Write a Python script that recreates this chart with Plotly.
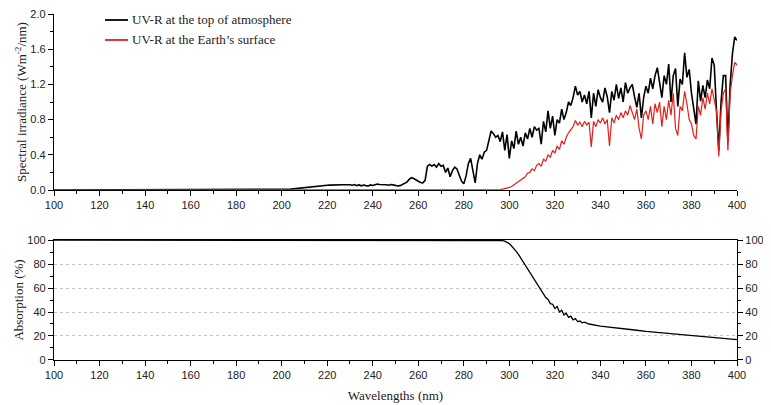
import plotly.graph_objects as go

# Irradiance spectrum (W m-2 nm-1)
wl_toa = [100] + list(range(200, 401))
irr_toa = [0.0,
    0.0, 0.003, 0.005, 0.008, 0.01, 0.013, 0.016, 0.02, 0.024, 0.028,
    0.032, 0.035, 0.038, 0.04, 0.042, 0.044, 0.046, 0.048, 0.05, 0.052,
    0.054, 0.055, 0.057, 0.058, 0.058, 0.059, 0.058, 0.06, 0.059, 0.061,
    0.06, 0.055, 0.062, 0.05, 0.058, 0.048, 0.056, 0.05, 0.047, 0.058,
    0.052, 0.06, 0.068, 0.062, 0.064, 0.058, 0.06, 0.055, 0.062, 0.058,
    0.05, 0.046, 0.05, 0.062, 0.075, 0.09, 0.12, 0.14, 0.13, 0.11,
    0.1, 0.085, 0.08, 0.11, 0.27, 0.29, 0.27, 0.29, 0.26, 0.3,
    0.27, 0.28, 0.2, 0.25, 0.15, 0.22, 0.26, 0.24, 0.16, 0.1,
    0.07, 0.16, 0.3, 0.36, 0.22, 0.08, 0.3, 0.4, 0.35, 0.43,
    0.45, 0.58, 0.67, 0.64, 0.6, 0.62, 0.55, 0.66, 0.45, 0.63,
    0.36, 0.56, 0.47, 0.67, 0.52, 0.6, 0.5, 0.65, 0.58, 0.7,
    0.6, 0.72, 0.68, 0.7, 0.52, 0.78, 0.66, 0.9, 0.7, 0.84,
    0.62, 0.8, 0.76, 0.92, 0.8, 0.88, 1.0, 0.96, 1.05, 1.18,
    1.08, 1.12, 1.0, 1.08, 0.98, 1.12, 0.82, 1.1, 0.95, 1.14,
    1.05, 1.0, 1.16, 1.06, 0.88, 1.12, 1.02, 1.2, 1.04, 1.16,
    1.0, 1.22, 1.1, 1.16, 1.2, 1.06, 0.94, 1.1, 0.82, 1.05,
    1.18, 1.1, 1.27, 1.15, 1.3, 1.39, 1.2, 1.05, 1.3, 1.2,
    1.43, 1.0, 1.3, 1.38, 0.95, 1.26, 1.2, 1.56, 1.28, 1.37,
    1.1, 0.95, 0.75, 1.24, 1.01, 1.19, 1.05, 1.25, 1.15, 1.5,
    1.42, 0.9, 0.45, 1.0, 1.3, 1.3, 0.55, 1.2, 1.55, 1.74,
    1.7]

wl_surf = [100] + list(range(295, 401))
irr_surf = [0.0,
    0.0, 0.005, 0.01, 0.015, 0.02, 0.03, 0.04, 0.06, 0.07, 0.1,
    0.11, 0.14, 0.15, 0.19, 0.2, 0.24, 0.22, 0.28, 0.3, 0.27,
    0.35, 0.33, 0.4, 0.37, 0.45, 0.42, 0.5, 0.46, 0.56, 0.52,
    0.6, 0.65, 0.68, 0.72, 0.79, 0.74, 0.77, 0.72, 0.78, 0.74,
    0.77, 0.49, 0.78, 0.72, 0.8, 0.76, 0.82, 0.75, 0.8, 0.5,
    0.82, 0.76, 0.85, 0.8, 0.88, 0.82, 0.9, 0.85, 0.96, 0.88,
    0.8, 0.92, 0.7, 0.58, 0.85, 0.9, 0.8, 0.95, 0.75, 0.98,
    0.88, 1.0, 0.72, 0.95, 0.8, 1.02, 0.85, 1.1, 0.7, 0.62,
    0.95, 0.9, 1.12, 0.98, 0.8, 0.75, 0.62, 0.58, 0.95, 0.85,
    1.05, 0.92, 1.1, 0.98, 1.15, 1.02, 0.9, 0.38, 0.9, 1.1,
    1.15, 0.45, 1.1, 1.3, 1.45, 1.42]

# Absorption (%)
wl_abs = [100, 296, 297, 298, 299, 300, 301, 302, 303, 304, 305, 306, 307, 308,
          309, 310, 311, 312, 313, 314, 315, 316, 317, 318, 319, 320, 321, 322,
          323, 324, 325, 326, 327, 328, 329, 330, 331, 332, 333, 335, 340, 345,
          350, 355, 360, 365, 370, 375, 380, 385, 390, 395, 400]
absorption = [100, 100, 99.5, 99, 98, 97, 95, 93, 90.5, 88, 85, 82, 79, 76,
              73, 70.5, 67, 64, 61, 57.5, 55, 52, 50.5, 47, 46.5, 43, 44.5, 40,
              41.5, 37.5, 39, 35.5, 36.5, 33.5, 34.5, 32, 32.5, 31, 31.5, 30, 28.3, 27,
              26, 25, 23.8, 23, 22, 21.2, 20.3, 19.6, 18.6, 17.6, 17]

series_names = ["UV-R at the top of atmosphere", "UV-R at the Earth\u2019s surface"]
series_colors = ["black", "#e0201b"]

tick_font = dict(family="Liberation Sans, Arial", size=11, color="#222")
serif = dict(family="Liberation Serif, Times New Roman", size=13, color="#222")

fig = go.Figure()
fig.add_trace(go.Scatter(x=wl_toa, y=irr_toa, mode="lines", name=series_names[0],
                         line=dict(color=series_colors[0], width=1.6), xaxis="x", yaxis="y"))
fig.add_trace(go.Scatter(x=wl_surf, y=irr_surf, mode="lines", name=series_names[1],
                         line=dict(color=series_colors[1], width=1.2), xaxis="x", yaxis="y"))
fig.add_trace(go.Scatter(x=wl_abs, y=absorption, mode="lines",
                         line=dict(color="black", width=1.3), xaxis="x2", yaxis="y2"))
# copie invisible pour les étiquettes de droite
fig.add_trace(go.Scatter(x=wl_abs, y=absorption, mode="lines", opacity=0,
                         hoverinfo="skip", xaxis="x2", yaxis="y3"))

# légende dessinée à la main (la légende plotly pousse la marge du haut)
for i, (nom, coul) in enumerate(zip(series_names, series_colors)):
    yy = 0.9827 - i * 0.0578
    fig.add_shape(type="line", xref="paper", yref="paper", x0=0.0747, x1=0.1083, y0=yy, y1=yy,
                  line=dict(color=coul, width=1.8))
    fig.add_annotation(text=nom, xref="paper", yref="paper", x=0.111, y=yy, xanchor="left",
                       yanchor="middle", showarrow=False, font=serif)

ax_common = dict(showline=True, linecolor="black", linewidth=1.3, ticks="outside",
                 ticklen=5, tickwidth=1.3, tickcolor="black", tickfont=tick_font,
                 showgrid=False, zeroline=False, automargin=False,
                 ticklabeloverflow="allow")

# la page a une marge de 8 px : figure un peu plus petite que la fenêtre
fig.update_layout(
    width=763, height=397,
    margin=dict(l=46, r=34, t=6, b=45),
    paper_bgcolor="white", plot_bgcolor="white",
    showlegend=False,
    xaxis=dict(domain=[0, 1], anchor="y", range=[100, 400], dtick=20,
               minor=dict(ticks="outside", ticklen=3, dtick=10, tickcolor="black"), **ax_common),
    yaxis=dict(domain=[0.4913, 1], anchor="x", range=[0, 2.0], dtick=0.4, tickformat=".1f",
               minor=dict(ticks="outside", ticklen=3, dtick=0.2, tickcolor="black"),
               title=dict(text="Spectral irradiance (Wm<sup>-2</sup>/nm)", font=serif, standoff=0),
               **ax_common),
    xaxis2=dict(domain=[0, 1], anchor="y2", range=[100, 400], dtick=20, mirror=True,
                minor=dict(ticks="outside", ticklen=3, dtick=10, tickcolor="black"),
                title=dict(text="Wavelengths (nm)", font=serif, standoff=10), **ax_common),
    yaxis2=dict(domain=[0, 0.3468], anchor="x2", range=[0, 100], dtick=20, mirror=True,
                minor=dict(ticks="outside", ticklen=3, dtick=10, tickcolor="black"),
                title=dict(text="Absorption (%)", font=serif, standoff=0),
                **{**ax_common, "showgrid": True, "gridcolor": "#c4c4c4", "griddash": "dot",
                   "gridwidth": 1}),
    yaxis3=dict(overlaying="y2", side="right", anchor="x2", range=[0, 100], dtick=20,
                minor=dict(ticks="outside", ticklen=3, dtick=10, tickcolor="black"),
                **ax_common),
)

fig.write_html("out.html")
